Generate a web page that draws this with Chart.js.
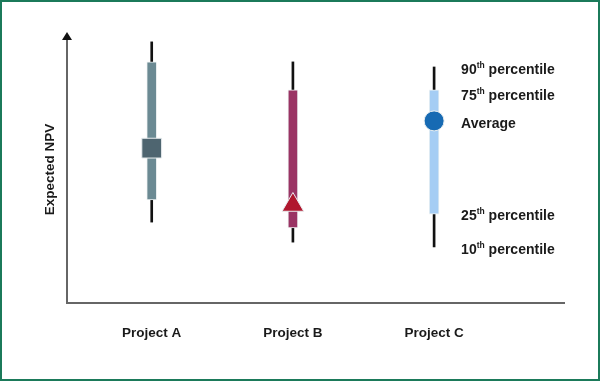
<!DOCTYPE html>
<html>
<head>
<meta charset="utf-8">
<script src="https://cdn.jsdelivr.net/npm/chart.js@4/dist/chart.umd.min.js"></script>
<style>
  html, body { margin: 0; padding: 0; background: #fff; }
  #wrap { width: 600px; height: 381px; position: relative; }
</style>
</head>
<body>
<div id="wrap"><canvas id="npvChart" width="600" height="381"></canvas></div>
<script>
// Projects and their Expected NPV distribution (arbitrary units, axis has no ticks)
const projects = ['Project A', 'Project B', 'Project C'];
const p10 = [30.3, 22.8, 21.0];
const p25 = [38.6, 28.1, 33.3];
const average = [58.0, 36.7, 68.2];
const p75 = [90.3, 79.8, 79.8];
const p90 = [97.8, 90.3, 88.4];

const boxColors = ['#6b8a93', '#9a3464', '#a5cdf4'];
const markerColors = ['#4e6570', '#b0172e', '#176ab3'];
const markerStyles = ['rect', 'triangle', 'circle'];
const markerSizes = [14, 12.5, 10];

// Legend-like notes placed beside the last project
const noteLabels = [
    { num: '90', sup: 'th', rest: ' percentile', arr: p90, dy: 3 },
    { num: '75', sup: 'th', rest: ' percentile', arr: p75, dy: 6 },
    { num: '', sup: '', rest: 'Average', arr: average, dy: 3 },
    { num: '25', sup: 'th', rest: ' percentile', arr: p25, dy: 2 },
    { num: '10', sup: 'th', rest: ' percentile', arr: p10, dy: 3 }
];

const textColor = '#1a1a1a';
const fontFamily = "'Liberation Sans', Arial, sans-serif";

const frameAndNotes = {
    id: 'frameAndNotes',
    afterDraw(chart) {
        const ctx = chart.ctx;
        const x = chart.scales.x;
        const y = chart.scales.y;
        const area = chart.chartArea;

        ctx.save();
        // arrow head on the y axis
        ctx.fillStyle = '#111';
        ctx.beginPath();
        ctx.moveTo(area.left, area.top - 4);
        ctx.lineTo(area.left - 5, area.top + 4);
        ctx.lineTo(area.left + 5, area.top + 4);
        ctx.closePath();
        ctx.fill();

        // notes beside Project C
        const last = projects.length - 1;
        const noteX = x.getPixelForValue(last) + 27;
        ctx.fillStyle = textColor;
        ctx.textBaseline = 'middle';
        ctx.textAlign = 'left';
        noteLabels.forEach(n => {
            const py = y.getPixelForValue(n.arr[last]) + n.dy;
            let cx = noteX;
            ctx.font = 'bold 14px ' + fontFamily;
            if (n.num) {
                ctx.fillText(n.num, cx, py);
                cx += ctx.measureText(n.num).width;
                ctx.font = 'bold 8.5px ' + fontFamily;
                ctx.fillText(n.sup, cx, py - 4);
                cx += ctx.measureText(n.sup).width;
                ctx.font = 'bold 14px ' + fontFamily;
            }
            ctx.fillText(n.rest, cx, py);
        });

        // green frame
        ctx.strokeStyle = '#1b7a5a';
        ctx.lineWidth = 2;
        ctx.strokeRect(1, 1, chart.width - 2, chart.height - 2);
        ctx.restore();
    }
};

const ctx = document.getElementById('npvChart').getContext('2d');

new Chart(ctx, {
    type: 'bar',
    data: {
        datasets: [
            {
                label: 'Average',
                type: 'scatter',
                data: projects.map((p, i) => ({ x: i, y: average[i] })),
                pointStyle: markerStyles,
                pointRadius: markerSizes,
                pointHoverRadius: markerSizes,
                pointBackgroundColor: markerColors,
                pointBorderColor: '#e9eef0',
                pointBorderWidth: 1,
                order: 1
            },
            {
                label: '25th-75th',
                data: projects.map((p, i) => ({ x: i, y: [p25[i], p75[i]] })),
                backgroundColor: boxColors,
                borderColor: '#eef2f3',
                borderWidth: 1,
                borderSkipped: false,
                barThickness: 10,
                grouped: false,
                order: 2
            },
            {
                label: '10th-90th',
                data: projects.map((p, i) => ({ x: i, y: [p10[i], p90[i]] })),
                backgroundColor: '#111',
                borderWidth: 0,
                barThickness: 2,
                grouped: false,
                order: 3
            }
        ]
    },
    options: {
        responsive: false,
        animation: false,
        layout: {
            padding: { top: 36, right: 36, left: 0, bottom: 0 }
        },
        scales: {
            x: {
                type: 'linear',
                offset: false,
                min: -0.6,
                max: 2.92,
                afterFit(scale) { scale.height = 78; },
                afterBuildTicks(scale) {
                    scale.ticks = projects.map((p, i) => ({ value: i }));
                },
                grid: { display: false, drawTicks: false },
                border: { display: true, color: '#666', width: 2 },
                ticks: {
                    padding: 22,
                    color: textColor,
                    font: { size: 13.5, weight: 'bold', family: fontFamily },
                    callback: (v) => projects[v] || ''
                }
            },
            y: {
                min: 0,
                max: 100,
                afterFit(scale) { scale.width = 67; },
                grid: { display: false, drawTicks: false },
                border: { display: true, color: '#666', width: 2 },
                ticks: { display: false },
                title: {
                    display: true,
                    text: 'Expected NPV',
                    color: textColor,
                    padding: { top: 42, bottom: 0 },
                    font: { size: 13.5, weight: 'bold', family: fontFamily }
                }
            }
        },
        plugins: {
            legend: { display: false },
            tooltip: { enabled: false }
        }
    },
    plugins: [frameAndNotes]
});
</script>
</body>
</html>
